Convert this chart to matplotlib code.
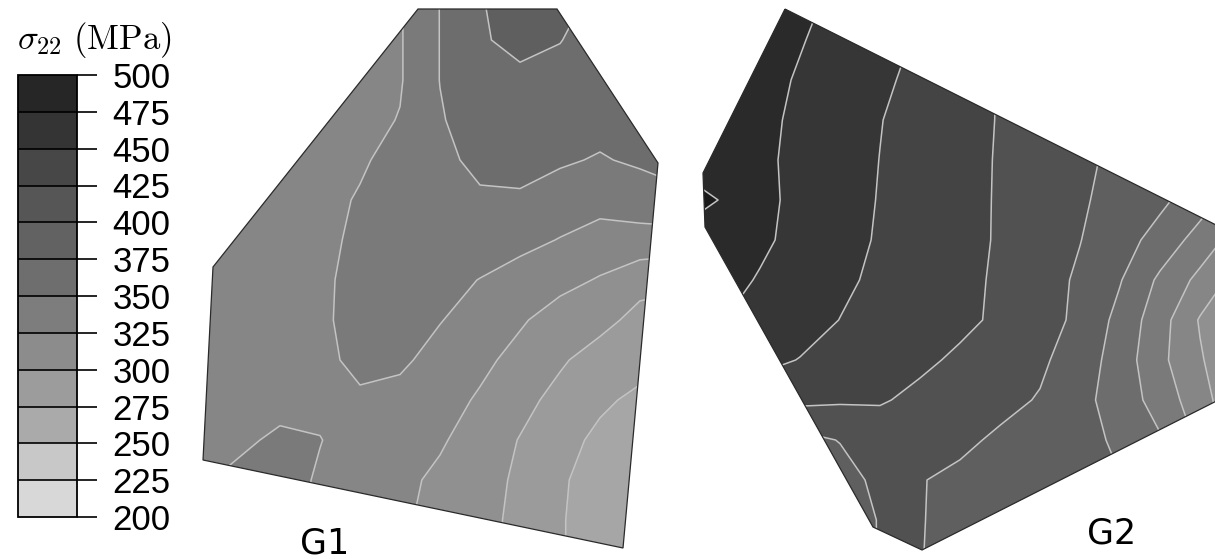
import numpy as np
import matplotlib
matplotlib.use("Agg")
import matplotlib.pyplot as plt
from matplotlib.patches import Polygon
from matplotlib.colors import ListedColormap, BoundaryNorm
from matplotlib.cm import ScalarMappable

plt.rcParams['mathtext.fontset'] = 'cm'

# ---------------- data ----------------
levels = [200, 225, 250, 275, 300, 325, 350, 375, 400, 425, 450, 475, 500]
tick_labels = ['200', '225', '250', '275', '300', '325', '350', '375',
               '400', '425', '450', '475', '500']
# grey of each band in the grains (low -> high, last = above 500)
plot_grays = ['#b8b8b8', '#a6a6a6', '#9b9b9b', '#909090', '#868686', '#7a7a7a',
              '#6d6d6d', '#5f5f5f', '#515151', '#444444', '#363636', '#2a2a2a',
              '#1a1a1a']
# grey of each band in the colour bar (low -> high)
bar_grays = ['#d8d8d8', '#c8c8c8', '#aaaaaa', '#9c9c9c', '#8c8c8c', '#7d7d7d',
             '#6e6e6e', '#626262', '#565656', '#474747', '#343434', '#262626']

# grain G1: sampled sigma_22 (MPa) on a grid (image pixel coordinates)
g1_x = [200, 240, 280, 320, 360, 400, 440, 480, 520, 560, 600, 640, 680]
g1_y = [0, 40, 80, 120, 160, 200, 240, 280, 320, 360, 400, 440, 480, 520, 560]
g1_stress = [
    [312, 312, 314, 316, 318, 323, 350.5, 373, 390, 385, 368, 365, 362],
    [312, 312, 314, 316, 318, 323, 350.5, 371, 385, 375.5, 368, 362, 360],
    [312, 312, 312, 314, 316, 323, 350.5, 364, 367, 370, 365, 362, 360],
    [312, 312, 312, 314, 318, 326, 348, 362, 363, 362, 358, 356, 358],
    [312, 312, 312, 316, 322, 333, 345, 355, 355, 353, 348, 354, 358],
    [312, 312, 314, 318, 327, 336, 342, 347, 348, 338.75, 333, 336, 345],
    [312, 312, 314, 320, 329, 336, 340, 335, 332, 324, 316, 317, 314],
    [310, 312, 315, 322, 330, 336, 331, 324.5, 315, 307.5, 298, 282.6, 280],
    [310, 312, 316, 322, 331, 334, 326, 315, 303, 289, 282, 268, 265],
    [310, 312, 316, 320, 330, 329, 317, 306, 292, 278, 265, 258, 255],
    [310, 313, 316, 321, 322, 318, 310, 297, 282, 268, 254, 245, 242],
    [312, 320, 330, 325.5, 318, 312, 303, 288, 274, 258, 245, 240, 238],
    [322, 332, 332, 323, 316, 306, 295, 284, 271, 253, 240, 238, 236],
    [320, 332, 330, 322, 314, 303, 294, 284, 268, 252, 238, 235, 235],
    [320, 332, 330, 322, 314, 303, 294, 284, 268, 252, 238, 235, 235],
]
g1_outline = [(418, 9), (557, 9), (658, 163), (623, 548), (203, 460), (213, 267)]

# grain G2
g2_x = [680, 720, 760, 800, 840, 880, 920, 960, 1000, 1040, 1080, 1120, 1160, 1200, 1240]
g2_y = [0, 40, 80, 120, 160, 200, 240, 280, 320, 360, 400, 440, 480, 520, 560]
g2_stress = [
    [498, 495, 490, 480, 470.7, 461, 451.7, 438, 424.3, 414.6, 404.9, 395, 385, 375.2, 358],
    [498, 495, 485.8, 476.4, 467, 457.5, 447.6, 435.7, 424, 414.4, 404.8, 394.4, 383.3, 370.8, 354],
    [498, 491.7, 482.3, 472.9, 463.4, 454, 444.2, 434.1, 424, 414.4, 404.8, 395, 385, 374.8, 352],
    [495, 490.5, 480.6, 470.6, 460.7, 450.7, 441.7, 432.8, 423.8, 414.7, 405.7, 397.2, 389.8, 382.4, 362],
    [490, 489.4, 479.5, 469.5, 459.6, 449.7, 440.9, 432.2, 423.3, 413.8, 404.3, 395.1, 386.3, 377.4, 357.3],
    [520, 499, 481.2, 468.9, 458.8, 448.9, 440.4, 431.9, 423.1, 413, 402.9, 391.8, 380.3, 361.4, 334.7],
    [490, 489.6, 479, 468.4, 457.7, 447.8, 439.7, 431.6, 423, 411.8, 400.6, 385.2, 365.7, 339.9, 312.5],
    [490, 482.9, 473.3, 463.7, 454.1, 445.7, 438.2, 430.6, 422, 409.9, 396.5, 376.5, 345.4, 318.4, 289],
    [485, 476, 467.3, 458.4, 449.7, 443, 436.3, 429.7, 421.4, 409.5, 394.9, 367.5, 335.2, 297.9, 270],
    [470, 465, 455.8, 449.3, 442.6, 435.8, 429.1, 421.5, 412.7, 404, 388.3, 363.6, 331, 302.7, 275.7],
    [455, 445, 438, 431, 428, 427, 420, 413.1, 406.2, 398.4, 382.3, 363.5, 339.9, 310, 279],
    [405, 400, 395, 392, 401, 412.5, 408, 404.6, 396.4, 388.8, 381.3, 371.6, 352.4, 320, 280],
    [400, 395, 390, 388, 390, 406, 401, 395.3, 390.4, 385.5, 380.5, 375.6, 355.6, 325, 290],
    [400, 395, 390, 388, 390, 401, 400.8, 395, 390, 385, 380, 375, 355, 325, 290],
    [400, 395, 390, 388, 390, 401, 400.5, 395, 390, 385, 380, 375, 355, 325, 290],
]
g2_outline = [(785, 9), (1260, 247), (1260, 379), (922, 550), (873, 527), (705, 227), (703, 173)]

grain_labels = ['G1', 'G2']
label_pos = [(325, 543), (1112, 534)]

# ---------------- figure ----------------
fig = plt.figure(figsize=(12.15, 5.59), dpi=100)
ax = fig.add_axes([0, 0, 1, 1])
ax.set_xlim(0, 1215)
ax.set_ylim(559, 0)
ax.axis('off')

fill_levels = levels + [550]
for xs, ys, zs, outline in [(g1_x, g1_y, g1_stress, g1_outline),
                            (g2_x, g2_y, g2_stress, g2_outline)]:
    z = np.array(zs, dtype=float)
    patch = Polygon(outline, closed=True, facecolor='none',
                    edgecolor='#2a2a2a', lw=0.9, zorder=4)
    ax.add_patch(patch)
    cf = ax.contourf(xs, ys, z, levels=fill_levels, colors=plot_grays, zorder=1)
    cf.set_clip_path(patch)
    cl = ax.contour(xs, ys, z, levels=levels[1:], colors='#c4c4c4',
                    linewidths=1.1, zorder=2)
    cl.set_clip_path(patch)

for lab, (lx, ly) in zip(grain_labels, label_pos):
    ax.text(lx, ly, lab, fontsize=25, family='DejaVu Sans',
            ha='center', va='center', color='black')

# colour bar
cax = fig.add_axes([18 / 1215, 1 - 517 / 559, 59 / 1215, 442 / 559])
cmap = ListedColormap(bar_grays)
norm = BoundaryNorm(levels, cmap.N)
cb = fig.colorbar(ScalarMappable(norm=norm, cmap=cmap), cax=cax,
                  ticks=levels, drawedges=True)
cb.set_ticklabels(tick_labels)
cb.outline.set_linewidth(1.3)
cb.outline.set_edgecolor('black')
cb.dividers.set_color('black')
cb.dividers.set_linewidth(1.2)
cax.tick_params(length=14.5, width=1.2, pad=11, labelsize=25, colors='black')
for t in cax.get_yticklabels():
    t.set_fontfamily('Liberation Sans')

fig.text(94 / 1215, 1 - 40 / 559, r'$\sigma_{22}\ (\mathrm{MPa})$',
         fontsize=25, ha='center', va='center')

fig.savefig('out.png', dpi=100, facecolor='white')
